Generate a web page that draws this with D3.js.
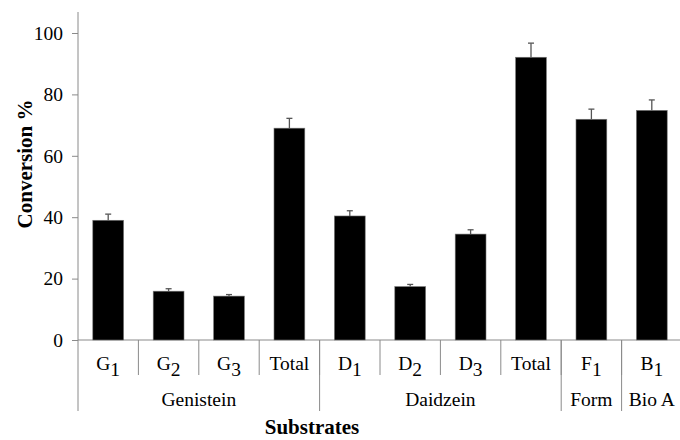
<!DOCTYPE html>
<html>
<head>
<meta charset="utf-8">
<script src="https://cdn.jsdelivr.net/npm/d3@7"></script>
<style>
  body { margin: 0; background: #fff; }
  svg { display: block; }
</style>
</head>
<body>
<div id="chart"></div>
<script>
// values
var labelBase = ['G', 'G', 'G', 'Total', 'D', 'D', 'D', 'Total', 'F', 'B'];
var labelSub = ['1', '2', '3', '', '1', '2', '3', '', '1', '1'];
var values = [39.0, 15.9, 14.3, 69.0, 40.4, 17.4, 34.5, 92.1, 71.9, 74.8];
var errors = [2.0, 0.8, 0.5, 3.2, 1.7, 0.7, 1.4, 4.6, 3.3, 3.4];
var groupNames = ['Genistein', 'Daidzein', 'Form', 'Bio A'];
var groupSizes = [4, 4, 1, 1];
var yTicks = [0, 20, 40, 60, 80, 100];

var width = 680, height = 440;
var axisColor = '#8a8a8a';
var serif = "'Liberation Serif', 'Times New Roman', serif";

var svg = d3.select('#chart').append('svg')
    .attr('width', width)
    .attr('height', height);

// shared text style
function serifText(g, size) {
    g.style('font-family', serif)
     .style('font-size', size + 'px')
     .style('fill', '#000');
}

// scales
var xScale = d3.scaleBand()
    .domain(d3.range(values.length))
    .range([78, 682])
    .paddingInner(0.49)
    .paddingOuter(0.245);
var step = xScale.step();
var x0 = 78;
var yScale = d3.scaleLinear()
    .domain([0, 100])
    .range([340, 33]);

// y axis
var yAxis = d3.axisLeft()
    .scale(yScale)
    .tickValues(yTicks)
    .tickSize(6)
    .tickPadding(9);
var gy = svg.append('g')
    .attr('transform', 'translate(' + x0 + ',0)')
    .call(yAxis);
gy.select('.domain').remove();
gy.selectAll('line').style('stroke', axisColor);
gy.selectAll('text').call(serifText, 19.5);
svg.append('line')
    .attr('x1', x0).attr('x2', x0)
    .attr('y1', 12).attr('y2', 411)
    .style('stroke', axisColor);

// x baseline
svg.append('line')
    .attr('x1', x0).attr('x2', 682)
    .attr('y1', yScale(0)).attr('y2', yScale(0))
    .style('stroke', axisColor);

// category separators
svg.selectAll('line.sep')
    .data(d3.range(1, values.length))
    .enter()
    .append('line').classed('sep', true)
    .attr('x1', function(d) { return x0 + d * step; })
    .attr('x2', function(d) { return x0 + d * step; })
    .attr('y1', yScale(0))
    .attr('y2', 375)
    .style('stroke', axisColor);

// group separators
var bounds = [0];
groupSizes.forEach(function(s, i) { bounds.push(bounds[i] + s); });
svg.selectAll('line.gsep')
    .data(bounds.slice(1))
    .enter()
    .append('line').classed('gsep', true)
    .attr('x1', function(d) { return x0 + d * step; })
    .attr('x2', function(d) { return x0 + d * step; })
    .attr('y1', yScale(0))
    .attr('y2', 411)
    .style('stroke', axisColor);

// bars
svg.selectAll('rect.bar')
    .data(values)
    .enter()
    .append('rect').classed('bar', true)
    .attr('x', function(d, i) { return xScale(i); })
    .attr('width', xScale.bandwidth())
    .attr('y', function(d) { return yScale(d); })
    .attr('height', function(d) { return yScale(0) - yScale(d); })
    .style('fill', '#000')
    .style('stroke', '#777')
    .style('stroke-width', 0.6);

// error bars (upper only)
var errG = svg.selectAll('g.err')
    .data(values)
    .enter()
    .append('g').classed('err', true)
    .attr('transform', function(d, i) {
        return 'translate(' + (xScale(i) + xScale.bandwidth() / 2) + ',0)';
    });
errG.append('line')
    .attr('x1', 0).attr('x2', 0)
    .attr('y1', function(d) { return yScale(d); })
    .attr('y2', function(d, i) { return yScale(d + errors[i]); })
    .style('stroke', '#555')
    .style('stroke-width', 1.3);
errG.append('line')
    .attr('x1', -3).attr('x2', 3)
    .attr('y1', function(d, i) { return yScale(d + errors[i]); })
    .attr('y2', function(d, i) { return yScale(d + errors[i]); })
    .style('stroke', '#555')
    .style('stroke-width', 1.3);

// category labels
var catText = svg.selectAll('text.cat')
    .data(labelBase)
    .enter()
    .append('text').classed('cat', true)
    .attr('x', function(d, i) { return x0 + (i + 0.5) * step; })
    .attr('y', 370)
    .attr('text-anchor', 'middle')
    .call(serifText, 19.5);
catText.append('tspan').text(function(d) { return d; });
catText.append('tspan')
    .attr('dy', 6)
    .text(function(d, i) { return labelSub[i]; });

// group labels
svg.selectAll('text.grp')
    .data(groupNames)
    .enter()
    .append('text').classed('grp', true)
    .attr('x', function(d, i) { return x0 + (bounds[i] + bounds[i + 1]) / 2 * step; })
    .attr('y', 406)
    .attr('text-anchor', 'middle')
    .call(serifText, 19.5)
    .text(function(d) { return d; });

// axis titles
svg.append('text')
    .text('Substrates')
    .attr('x', 312)
    .attr('y', 434)
    .attr('text-anchor', 'middle')
    .call(serifText, 21)
    .style('font-weight', 700);
svg.append('text')
    .text('Conversion %')
    .attr('transform', 'translate(32,164) rotate(-90)')
    .attr('text-anchor', 'middle')
    .call(serifText, 21)
    .style('font-weight', 700);
</script>
</body>
</html>
